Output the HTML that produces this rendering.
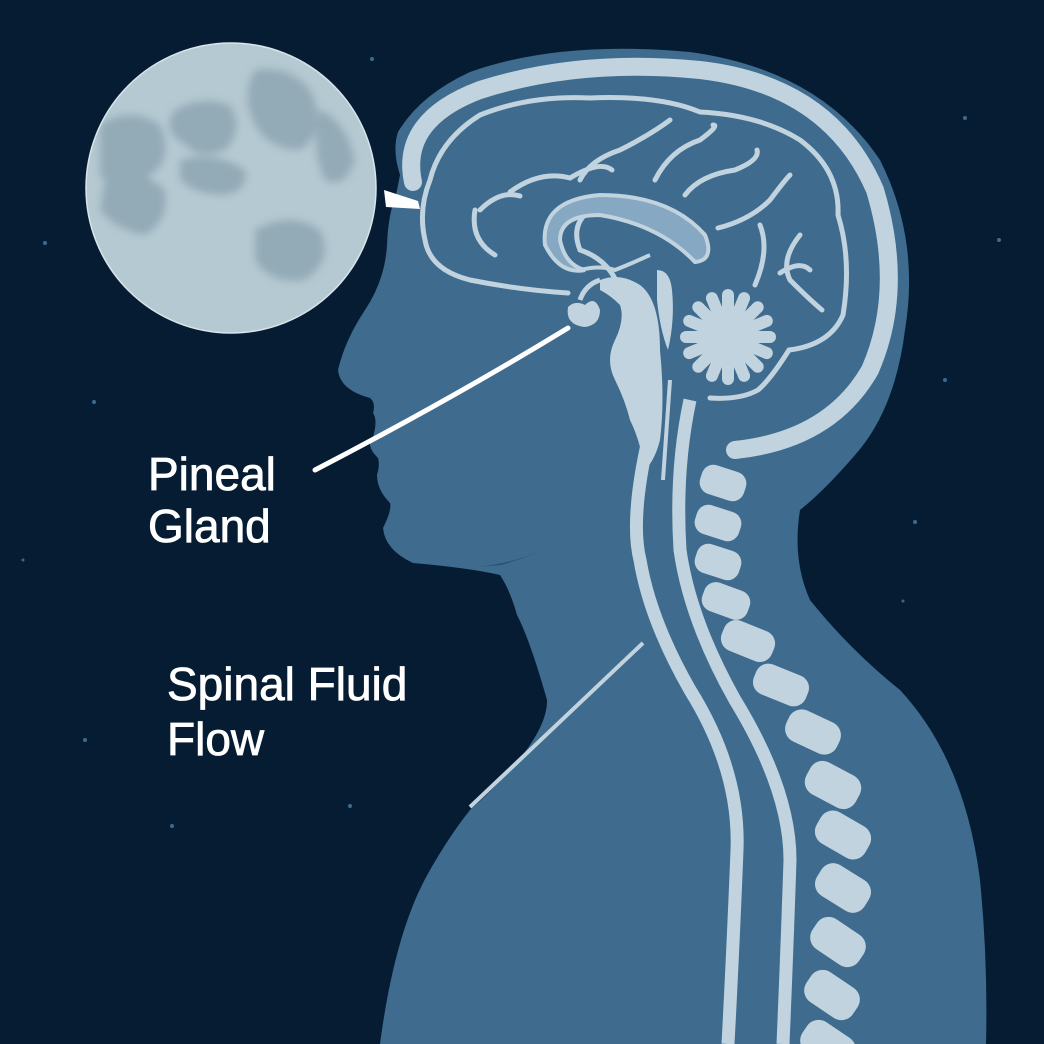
<!DOCTYPE html>
<html><head><meta charset="utf-8"><style>
html,body{margin:0;padding:0;background:#061c33;}
svg{display:block}
text{font-family:"Liberation Sans",sans-serif;fill:#fff;font-size:46px;stroke:#fff;stroke-width:0.8px;}
</style></head><body>
<svg width="1044" height="1044" viewBox="0 0 1044 1044" xmlns="http://www.w3.org/2000/svg">
<defs><filter id="bl" x="-20%" y="-20%" width="140%" height="140%"><feGaussianBlur stdDeviation="4"/></filter>
<clipPath id="mc"><circle cx="231" cy="188" r="144"/></clipPath></defs>
<rect width="1044" height="1044" fill="#061c33"/>
<g fill="#3c6a8e">
<circle cx="45" cy="243" r="2"/><circle cx="94" cy="402" r="2"/><circle cx="85" cy="740" r="2"/><circle cx="172" cy="826" r="2"/><circle cx="350" cy="806" r="2"/><circle cx="372" cy="59" r="2"/><circle cx="965" cy="118" r="2"/><circle cx="999" cy="240" r="2"/><circle cx="945" cy="380" r="2"/><circle cx="915" cy="522" r="2"/><circle cx="903" cy="601" r="1.5"/><circle cx="23" cy="560" r="1.5"/>
</g>
<!-- moon -->
<circle cx="231" cy="188" r="145" fill="#b5c9d2" stroke="#d8e4ea" stroke-width="1.5"/>
<g fill="#8ea6b2" opacity="0.85" filter="url(#bl)" clip-path="url(#mc)">
<path d="M100 125 Q130 105 160 125 Q175 160 150 175 Q120 200 100 175 Z"/>
<path d="M175 110 Q200 95 230 105 Q245 130 225 150 Q200 160 185 145 Q160 130 175 110 Z"/>
<path d="M255 70 Q290 65 310 90 Q330 130 300 150 Q270 150 255 125 Q240 95 255 70 Z"/>
<path d="M105 180 Q140 165 165 190 Q170 220 145 235 Q115 230 100 210 Z"/>
<path d="M255 230 Q290 210 320 230 Q335 260 305 280 Q270 285 255 260 Z"/>
<path d="M180 160 Q215 150 245 170 Q250 190 225 195 Q195 195 180 180 Z"/>
<path d="M320 110 Q345 120 355 160 Q345 190 325 180 Q310 150 320 110 Z"/>
</g>
<!-- body silhouette -->
<path fill="#3e6b8e" d="M400 175 Q392 150 398 132 Q420 95 470 72 Q560 40 690 52 Q820 70 880 160 Q920 240 905 330 Q895 410 855 455 Q825 490 800 510 Q792 560 810 600 Q850 650 900 690 Q965 760 980 880 Q988 960 986 1044 L380 1044 Q395 930 430 870 Q450 835 470 810 Q548 740 547 700 Q530 640 517 615 Q510 590 500 575 Q470 568 413 563 Q385 550 383 528 Q392 510 390 503 Q377 490 377 475 Q380 465 378 458 Q365 445 373 437 Q378 420 373 413 Q376 403 370 398 Q340 390 338 370 Q345 340 365 310 Q385 280 387 245 Q388 215 396 195 Z"/>
<!-- jaw shadow -->
<path fill="#254c6c" d="M477 567 Q550 560 595 512 Q560 550 500 565 Z"/>
<!-- throat line -->
<path d="M643 643 L470 807" stroke="#c0d3de" stroke-width="4" fill="none"/>
<!-- head band -->
<path d="M413 182 Q400 120 480 90 Q580 58 700 70 Q830 85 875 190 Q905 290 870 370 Q830 440 735 450" stroke="#c0d3de" stroke-width="18" fill="none" stroke-linecap="round"/>
<!-- brain outline -->
<g stroke="#c0d3de" stroke-width="5" fill="none" stroke-linecap="round">
<path d="M568 293 Q520 290 470 280 Q430 270 425 240 Q418 210 430 180 Q440 140 480 115 Q530 95 590 98 Q660 95 700 112 Q760 115 800 140 Q840 170 838 215 Q852 260 843 315 Q830 345 789 350 Q770 380 758 390 Q740 400 710 398"/>
<path d="M510 192 Q540 170 570 178 Q600 160 612 170"/>
<path d="M580 180 Q590 160 620 150 Q650 135 670 120"/>
<path d="M655 180 Q670 150 700 140 Q720 125 713 125"/>
<path d="M685 195 Q700 175 735 170 Q760 160 757 150"/>
<path d="M480 210 Q500 190 520 196"/>
<path d="M475 210 Q470 240 495 255"/>
<path d="M718 228 Q750 220 770 200 Q785 180 790 175"/>
<path d="M760 225 Q770 250 755 285"/>
<path d="M800 235 Q780 260 790 280 Q810 300 822 310"/>
<path d="M780 273 Q800 260 810 270"/>
<path d="M620 290 Q610 260 580 250 Q570 225 590 210"/>
</g>
<!-- corpus callosum -->
<path d="M545 245 Q540 200 600 195 Q670 195 705 235 Q715 260 695 262 Q660 225 600 215 Q560 215 560 240 Q565 265 585 270 Q560 275 545 245 Z" fill="#87a8c2" stroke="#c0d3de" stroke-width="4"/>
<path d="M580 270 Q600 265 615 270 Q635 262 650 255" stroke="#c0d3de" stroke-width="4" fill="none"/>
<!-- pituitary -->
<path d="M568 307 Q575 300 585 305 Q595 295 600 310 Q600 325 585 327 Q565 325 568 307 Z" fill="#c0d3de"/>
<path d="M580 300 Q585 285 600 280" stroke="#c0d3de" stroke-width="5" fill="none"/>
<!-- brainstem -->
<path fill="#c0d3de" d="M600 280 Q620 272 640 285 Q660 300 660 350 Q665 400 660 440 Q655 460 645 470 Q640 440 630 420 Q625 400 615 380 Q605 360 615 340 Q625 320 620 305 Q610 295 600 290 Z"/>
<path fill="#c0d3de" d="M657 270 Q670 270 672 290 Q675 320 668 350 Q660 330 657 300 Z"/>
<!-- cerebellum flower -->
<g transform="translate(728,337)" fill="#c0d3de">
<circle r="22"/>
<g id="p"><rect x="-6" y="-48" width="12" height="34" rx="6"/></g>
<use href="#p" transform="rotate(22.5)"/><use href="#p" transform="rotate(45)"/><use href="#p" transform="rotate(67.5)"/><use href="#p" transform="rotate(90)"/><use href="#p" transform="rotate(112.5)"/><use href="#p" transform="rotate(135)"/><use href="#p" transform="rotate(157.5)"/><use href="#p" transform="rotate(180)"/><use href="#p" transform="rotate(202.5)"/><use href="#p" transform="rotate(225)"/><use href="#p" transform="rotate(247.5)"/><use href="#p" transform="rotate(270)"/><use href="#p" transform="rotate(292.5)"/><use href="#p" transform="rotate(315)"/><use href="#p" transform="rotate(337.5)"/>
</g>
<!-- spine bands -->
<g stroke="#c0d3de" stroke-width="13" fill="none">
<path d="M648 440 Q630 520 640 560 Q650 620 690 690 Q740 770 737 850 Q733 950 728 1044"/>
<path d="M690 400 Q675 470 680 550 Q690 620 735 700 Q790 790 790 860 Q787 950 783 1044"/>
</g>
<path d="M670 380 Q665 450 663 480" stroke="#c0d3de" stroke-width="4" fill="none"/>
<!-- vertebrae -->
<g fill="#c0d3de">
<g transform="translate(723,483) rotate(18)"><rect x="-23" y="-15" width="46" height="30" rx="12"/></g>
<g transform="translate(718,523) rotate(18)"><rect x="-23" y="-15" width="46" height="30" rx="12"/></g>
<g transform="translate(718,562) rotate(18)"><rect x="-23" y="-15" width="46" height="30" rx="12"/></g>
<g transform="translate(726,601) rotate(20)"><rect x="-24" y="-15" width="48" height="30" rx="12"/></g>
<g transform="translate(748,641) rotate(22)"><rect x="-27" y="-16" width="54" height="32" rx="13"/></g>
<g transform="translate(781,685) rotate(22)"><rect x="-28" y="-16" width="56" height="32" rx="13"/></g>
<g transform="translate(813,732) rotate(25)"><rect x="-28" y="-17" width="56" height="34" rx="14"/></g>
<g transform="translate(833,785) rotate(28)"><rect x="-28" y="-18" width="56" height="36" rx="14"/></g>
<g transform="translate(843,835) rotate(30)"><rect x="-28" y="-18" width="56" height="36" rx="14"/></g>
<g transform="translate(843,888) rotate(32)"><rect x="-28" y="-18" width="56" height="36" rx="14"/></g>
<g transform="translate(838,942) rotate(34)"><rect x="-28" y="-18" width="56" height="36" rx="14"/></g>
<g transform="translate(832,995) rotate(34)"><rect x="-28" y="-18" width="56" height="36" rx="14"/></g>
<g transform="translate(828,1045) rotate(34)"><rect x="-28" y="-18" width="56" height="36" rx="14"/></g>
</g>
<!-- pointer wedge near forehead -->
<path d="M384 190 L386 207 L420 209 L418 201 Z" fill="#ffffff"/>
<!-- pointer line -->
<path d="M315 470 Q450 400 568 328" stroke="#ffffff" stroke-width="5" fill="none" stroke-linecap="round"/>
<text x="148" y="490">Pineal</text>
<text x="148" y="542">Gland</text>
<text x="167" y="700">Spinal Fluid</text>
<text x="167" y="755">Flow</text>
</svg>
</body></html>
